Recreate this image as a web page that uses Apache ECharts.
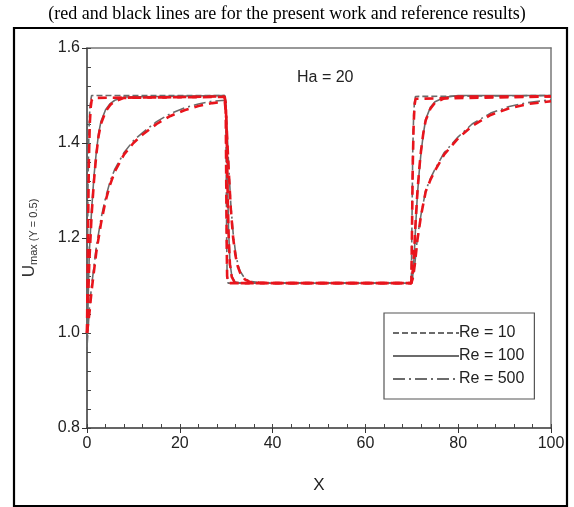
<!DOCTYPE html>
<html>
<head>
<meta charset="utf-8">
<script src="https://cdn.jsdelivr.net/npm/echarts@6/dist/echarts.min.js"></script>
<style>html,body{margin:0;padding:0;background:#fff}#c{width:574px;height:507px}</style>
</head>
<body>
<div id="c"></div>
<script>
// ---- data ----
var titleText = '(red and black lines are for the present work and reference results)';
var xTicks = [0, 20, 40, 60, 80, 100];
var yTicks = [0.8, 1.0, 1.2, 1.4, 1.6];

var xRe10 = [0, 0.2, 0.4, 0.6, 0.8, 1, 1.5, 29.7, 29.9, 30, 30.1, 30.2, 30.4, 69.9, 70, 70.2, 70.4, 70.6, 70.8, 71, 100];
var blackRe10 = [0.98, 1.3, 1.42, 1.47, 1.49, 1.5, 1.5, 1.5, 1.48, 1.35, 1.2, 1.12, 1.105, 1.105, 1.2, 1.38, 1.46, 1.49, 1.498, 1.5, 1.5];
var redRe10 = [1.0, 1.2, 1.36, 1.44, 1.475, 1.49, 1.495, 1.497, 1.47, 1.33, 1.19, 1.12, 1.105, 1.105, 1.18, 1.35, 1.44, 1.48, 1.493, 1.497, 1.498];

var xRe100 = [0, 0.5, 1, 1.5, 2, 2.5, 3, 4, 5, 6, 8, 29.6, 29.9, 30.1, 30.3, 30.5, 30.8, 31.2, 31.8, 33, 69.9, 70.2, 70.5, 70.8, 71.2, 71.6, 72, 72.5, 73, 74, 75, 77, 80, 100];
var blackRe100 = [0.97, 1.17, 1.26, 1.33, 1.38, 1.42, 1.445, 1.47, 1.483, 1.49, 1.497, 1.5, 1.49, 1.43, 1.32, 1.22, 1.15, 1.12, 1.108, 1.105, 1.105, 1.12, 1.16, 1.22, 1.29, 1.34, 1.38, 1.42, 1.45, 1.475, 1.487, 1.496, 1.5, 1.5];
var redRe100 = [1.0, 1.15, 1.25, 1.32, 1.375, 1.415, 1.44, 1.466, 1.48, 1.488, 1.495, 1.498, 1.485, 1.42, 1.3, 1.21, 1.145, 1.118, 1.107, 1.105, 1.105, 1.13, 1.17, 1.23, 1.295, 1.345, 1.385, 1.422, 1.448, 1.472, 1.485, 1.494, 1.498, 1.498];

var xRe500 = [0, 0.5, 1, 2, 3, 4, 5, 6, 8, 10, 12, 15, 18, 21, 24, 27, 29.7, 30, 30.5, 31, 31.5, 32, 32.5, 33, 34, 35, 37, 40, 69.9, 70.3, 70.7, 71.2, 72, 73, 74, 75, 77, 80, 83, 87, 91, 95, 100];
var blackRe500 = [0.97, 1.05, 1.1, 1.18, 1.24, 1.285, 1.32, 1.345, 1.38, 1.405, 1.422, 1.445, 1.462, 1.474, 1.482, 1.488, 1.49, 1.46, 1.36, 1.27, 1.21, 1.17, 1.145, 1.13, 1.115, 1.109, 1.106, 1.105, 1.105, 1.12, 1.15, 1.2, 1.25, 1.3, 1.325, 1.345, 1.38, 1.413, 1.44, 1.463, 1.477, 1.485, 1.491];
var redRe500 = [1.0, 1.04, 1.09, 1.17, 1.23, 1.278, 1.313, 1.34, 1.376, 1.4, 1.418, 1.44, 1.457, 1.469, 1.478, 1.484, 1.487, 1.455, 1.35, 1.26, 1.2, 1.163, 1.14, 1.127, 1.113, 1.108, 1.106, 1.105, 1.105, 1.118, 1.148, 1.195, 1.248, 1.298, 1.322, 1.342, 1.376, 1.41, 1.436, 1.459, 1.473, 1.482, 1.488];

var legendNames = ['Re = 10', 'Re = 100', 'Re = 500'];

function zip(xs, ys) { return xs.map(function (x, i) { return [x, ys[i]]; }); }

var blackColor = '#6b6b6b';
var redColor = '#e8141c';
var dashDot = [12, 4, 2, 4];

var series = [
  { name: legendNames[0], type: 'line', data: zip(xRe10, blackRe10), showSymbol: false, symbol: 'none', z: 3,
    lineStyle: { color: blackColor, width: 1.6, type: [6, 3] }, itemStyle: { color: blackColor } },
  { name: legendNames[1], type: 'line', data: zip(xRe100, blackRe100), showSymbol: false, symbol: 'none', z: 3,
    lineStyle: { color: blackColor, width: 1.6, type: 'solid' }, itemStyle: { color: blackColor } },
  { name: legendNames[2], type: 'line', data: zip(xRe500, blackRe500), showSymbol: false, symbol: 'none', z: 3,
    lineStyle: { color: blackColor, width: 1.6, type: dashDot }, itemStyle: { color: blackColor } },
  { name: 'red10', type: 'line', data: zip(xRe10, redRe10), showSymbol: false, symbol: 'none', z: 4,
    lineStyle: { color: redColor, width: 2.6, type: [9, 6] } },
  { name: 'red100', type: 'line', data: zip(xRe100, redRe100), showSymbol: false, symbol: 'none', z: 4,
    lineStyle: { color: redColor, width: 2.6, type: [9, 6] } },
  { name: 'red500', type: 'line', data: zip(xRe500, redRe500), showSymbol: false, symbol: 'none', z: 4,
    lineStyle: { color: redColor, width: 2.6, type: [9, 6] } }
];

var chart = echarts.init(document.getElementById('c'), null, { renderer: 'canvas' });
var labelFont = { fontFamily: 'Liberation Sans, Arial, sans-serif', fontSize: 16, color: '#222' };
var axisLineStyle = { color: '#333', width: 1.5 };

chart.setOption({
  animation: false,
  backgroundColor: '#fff',
  title: {
    text: titleText, left: 'center', top: 0,
    textStyle: { fontFamily: 'Liberation Serif, Times New Roman, serif', fontSize: 18, fontWeight: 'normal', color: '#000' }
  },
  grid: { left: 87, right: 23, top: 48, bottom: 79, containLabel: false },
  legend: {
    data: legendNames, orient: 'vertical', left: 384, top: 313,
    itemWidth: 66, itemHeight: 16, itemGap: 7,
    padding: [12, 10, 12, 8],
    borderColor: '#555', borderWidth: 1.2,
    selectedMode: false,
    itemStyle: { color: 'rgba(0,0,0,0)', borderWidth: 0, opacity: 0 },
    textStyle: { fontFamily: 'Liberation Sans, Arial, sans-serif', fontSize: 16, color: '#222', padding: [0, 0, 0, -5] }
  },
  xAxis: [
    { type: 'value', min: 0, max: 100, interval: 20, position: 'bottom',
      name: 'X', nameLocation: 'middle', nameGap: 49,
      nameTextStyle: { fontFamily: 'Liberation Sans, Arial, sans-serif', fontSize: 17, color: '#222' },
      axisLine: { onZero: false, lineStyle: axisLineStyle },
      axisTick: { show: true, inside: false, length: 5, lineStyle: { color: '#333' } },
      axisLabel: Object.assign({ margin: 8 }, labelFont),
      splitLine: { show: false } },
    { type: 'value', min: 0, max: 100, interval: 4, position: 'bottom',
      axisLine: { show: false, onZero: false }, axisTick: { show: true, inside: true, length: 4, lineStyle: { color: '#444' } },
      axisLabel: { show: false }, splitLine: { show: false } },
    { type: 'value', min: 0, max: 100, position: 'top',
      axisLine: { onZero: false, lineStyle: { color: '#777', width: 1.5 } }, axisTick: { show: false },
      axisLabel: { show: false }, splitLine: { show: false } }
  ],
  yAxis: [
    { type: 'value', min: 0.8, max: 1.6, interval: 0.2, position: 'left',
      name: '{u|U}{s|max (Y = 0.5)}', nameLocation: 'middle', nameGap: 48, nameRotate: 90,
      nameTextStyle: { rich: {
        u: { fontFamily: 'Liberation Sans, Arial, sans-serif', fontSize: 17, color: '#333' },
        s: { fontFamily: 'Liberation Sans, Arial, sans-serif', fontSize: 11, color: '#333', padding: [9, 0, 0, 0] }
      } },
      axisLine: { onZero: false, lineStyle: axisLineStyle },
      axisTick: { show: true, inside: false, length: 5, lineStyle: { color: '#333' } },
      axisLabel: Object.assign({ margin: 7, formatter: function (v) { return v.toFixed(1); } }, labelFont),
      splitLine: { show: false } },
    { type: 'value', min: 0.8, max: 1.6, interval: 0.04, position: 'left',
      axisLine: { show: false, onZero: false }, axisTick: { show: true, inside: true, length: 4, lineStyle: { color: '#444' } },
      axisLabel: { show: false }, splitLine: { show: false } },
    { type: 'value', min: 0.8, max: 1.6, position: 'right',
      axisLine: { onZero: false, lineStyle: { color: '#777', width: 1.5 } }, axisTick: { show: false },
      axisLabel: { show: false }, splitLine: { show: false } }
  ],
  graphic: [
    { type: 'rect', shape: { x: 14, y: 28, width: 553, height: 478 },
      style: { fill: 'none', stroke: '#000', lineWidth: 2.2 }, silent: true },
    { type: 'text', left: 297, top: 70,
      style: { text: 'Ha = 20', fontFamily: 'Liberation Sans, Arial, sans-serif', fontSize: 16, fill: '#222' } }
  ],
  series: series
});
</script>
</body>
</html>
